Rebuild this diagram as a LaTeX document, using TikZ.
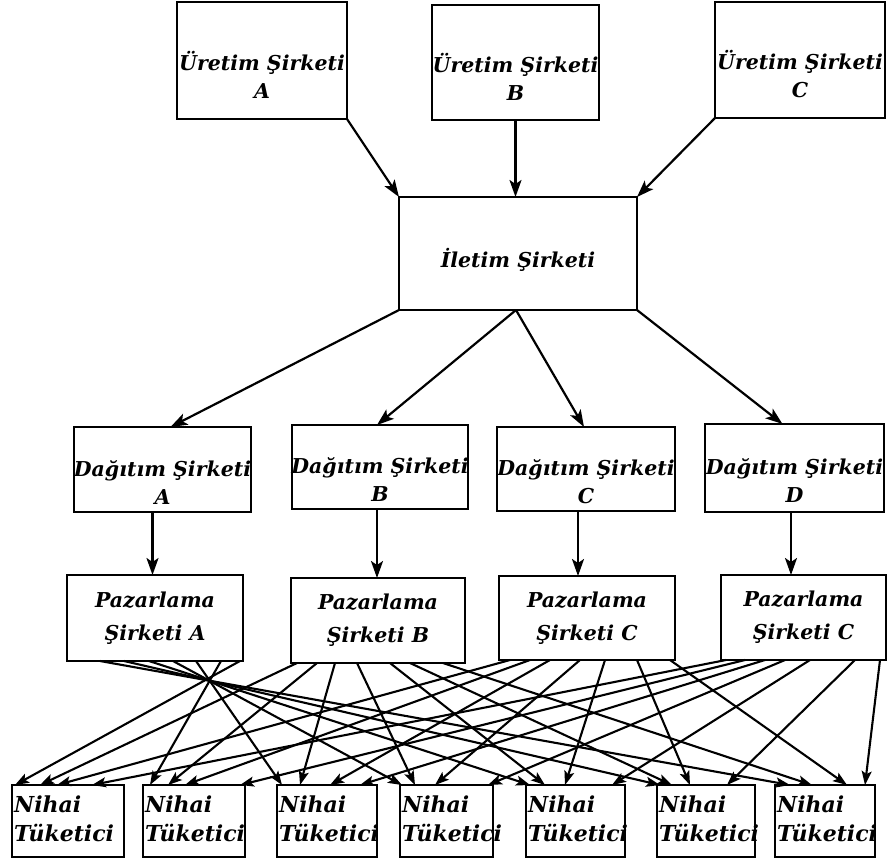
\documentclass[tikz,border=0pt]{standalone}
\usepackage{fontspec}
\setmainfont{DejaVu Serif}
\usetikzlibrary{arrows.meta}
\begin{document}
\begin{tikzpicture}[x=1pt,y=-1pt,
  box/.style={draw, line width=2.6pt, inner sep=0pt, outer sep=0pt},
  lbl/.style={font=\fontsize{20.5}{28}\selectfont\bfseries\itshape, align=center, inner sep=0pt},
  plbl/.style={lbl, font=\fontsize{20.5}{33}\selectfont\bfseries\itshape},
  nlbl/.style={lbl, font=\fontsize{22}{29}\selectfont\bfseries\itshape, align=left, anchor=west},
  arr/.style={line width=2.2pt, -{Stealth[length=17pt,width=12pt,inset=4pt]}},
  arrb/.style={line width=2.1pt, -{Stealth[length=14pt,width=10pt,inset=3pt]}}
]
\useasboundingbox (0,0) rectangle (887,860);

% production companies
\node[box, minimum width=170pt, minimum height=117pt] (uA) at (262,60.5) {};
\node[box, minimum width=167pt, minimum height=115pt] (uB) at (515.5,62.5) {};
\node[box, minimum width=170pt, minimum height=116pt] (uC) at (800,60) {};
\node[lbl] (uAt) at ([yshift=-14pt]uA.center) {Üretim Şirketi\\A};
\node[lbl] (uBt) at ([yshift=-14pt]uB.center) {Üretim Şirketi\\B};
\node[lbl] (uCt) at ([yshift=-14pt]uC.center) {Üretim Şirketi\\C};

% transmission company
\node[box, minimum width=238pt, minimum height=113pt] (il) at (518,253.5) {};
\node[lbl] (ilt) at ([yshift=-6pt]il.center) {İletim Şirketi};

% distribution companies
\node[box, minimum width=177pt, minimum height=85pt] (dA) at (162.5,469.5) {};
\node[box, minimum width=176pt, minimum height=84pt] (dB) at (380,467) {};
\node[box, minimum width=178pt, minimum height=84pt] (dC) at (586,469) {};
\node[box, minimum width=179pt, minimum height=88pt] (dD) at (794.5,468) {};
\node[lbl] (dAt) at ([yshift=-13pt]dA.center) {Dağıtım Şirketi\\A};
\node[lbl] (dBt) at ([yshift=-13pt]dB.center) {Dağıtım Şirketi\\B};
\node[lbl] (dCt) at ([yshift=-13pt]dC.center) {Dağıtım Şirketi\\C};
\node[lbl] (dDt) at ([yshift=-13pt]dD.center) {Dağıtım Şirketi\\D};

% marketing companies
\node[box, minimum width=176pt, minimum height=86pt] (pA) at (155,618) {};
\node[box, minimum width=174pt, minimum height=85pt] (pB) at (378,620.5) {};
\node[box, minimum width=176pt, minimum height=84pt] (pC) at (587,618) {};
\node[box, minimum width=165pt, minimum height=85pt] (pD) at (803.5,617.5) {};
\node[plbl] (pAt) at (pA.center) {Pazarlama\\Şirketi A};
\node[plbl] (pBt) at (pB.center) {Pazarlama\\Şirketi B};
\node[plbl] (pCt) at (pC.center) {Pazarlama\\Şirketi C};
\node[plbl] (pDt) at (pD.center) {Pazarlama\\Şirketi C};

% final consumers
\foreach \nm/\cx/\w in {n1/68/112, n2/194/102, n3/327/100, n4/446.5/93, n5/575.5/99, n6/706/98, n7/825/100}{
  \node[box, minimum width=\w pt, minimum height=72pt] (\nm) at (\cx,821) {};
  \node[nlbl] (\nm t) at ([xshift=2pt,yshift=2pt]\nm.west) {Nihai\\Tüketici};
}

% production -> transmission
\draw[arr] (uA.south east) -- (il.north west);
\draw[arr] (uB.south) -- (uB.south |- il.north);
\draw[arr] (uC.south west) -- (il.north east);

% transmission -> distribution
\draw[arr] (il.south west) -- ([xshift=8pt]dA.north);
\draw[arr] ([xshift=-2pt]il.south) -- ([xshift=-3pt]dB.north);
\draw[arr] ([xshift=-2pt]il.south) -- ([xshift=-2pt]dC.north);
\draw[arr] (il.south east) -- ([xshift=-12pt]dD.north);

% distribution -> marketing
\draw[arr] ([xshift=-10pt]dA.south) -- ([xshift=-10pt]dA.south |- pA.north);
\draw[arr] ([xshift=-3pt]dB.south) -- ([xshift=-3pt]dB.south |- pB.north);
\draw[arr] ([xshift=-8pt]dC.south) -- ([xshift=-8pt]dC.south |- pC.north);
\draw[arr] ([xshift=-3.5pt]dD.south) -- ([xshift=-3.5pt]dD.south |- pD.north);

% marketing -> every final consumer
\foreach \p/\s/\n/\t in {
  pA/173/n1/3, pA/154/n2/7, pA/129/n3/5, pA/106/n4/2, pA/82/n5/4, pA/57/n6/3, pA/33/n7/15,
  pB/6/n1/28, pB/26/n2/25, pB/44/n3/23, pB/66/n4/15, pB/99/n5/19, pB/119/n6/15, pB/152/n7/37,
  pC/11/n1/45, pC/31/n2/42, pC/51/n3/53, pC/81/n4/35, pC/106/n5/39, pC/138/n6/33, pC/171/n7/72,
  pD/5/n1/80, pD/24/n2/97, pD/44/n3/83, pD/64/n4/88, pD/89/n5/86, pD/134/n6/70, pD/159/n7/90}{
  \draw[arrb] ([xshift=\s]\p.south west) -- ([xshift=\t]\n.north west);
}
\end{tikzpicture}
\end{document}
